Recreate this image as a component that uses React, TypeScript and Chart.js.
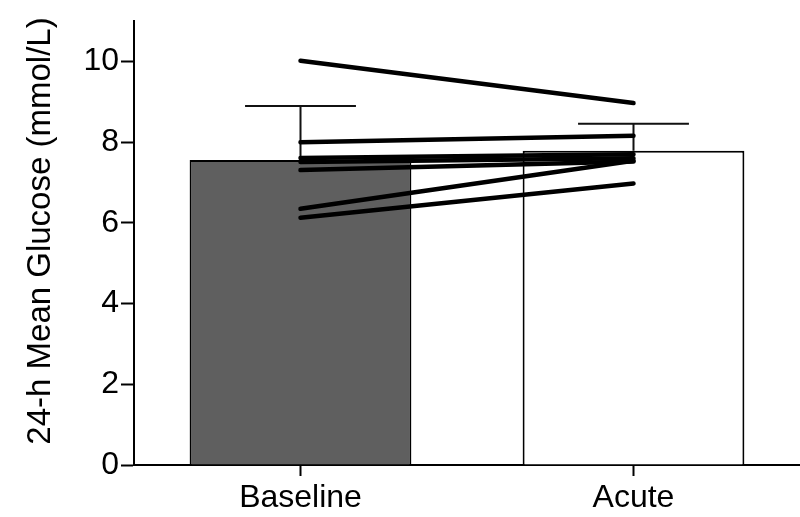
import React, { useEffect, useRef } from "react";
import { Chart, registerables } from "chart.js";

Chart.register(...registerables);

const categories = ["Baseline", "Acute"];
const barMeans = [7.56, 7.79];
const barErrors = [1.34, 0.67];
const subjectBaseline = [10.02, 8.0, 7.61, 7.51, 7.31, 6.35, 6.13];
const subjectAcute = [8.97, 8.16, 7.7, 7.6, 7.52, 7.54, 6.98];
const yTicks = [0, 2, 4, 6, 8, 10];
const yTitle = "24-h Mean Glucose (mmol/L)";

const FONT = "'Liberation Sans', Arial, Helvetica, sans-serif";

const errorBarPlugin = {
  id: "errorBars",
  afterDatasetDraw(chart: any, args: any) {
    if (args.index !== 0) return;
    const meta = chart.getDatasetMeta(0);
    const yScale = chart.scales.y;
    const ctx = chart.ctx;
    ctx.save();
    ctx.strokeStyle = "#111";
    ctx.lineWidth = 2;
    meta.data.forEach((el: any, i: number) => {
      const x = el.x;
      const yBar = el.y;
      const yTop = yScale.getPixelForValue(barMeans[i] + barErrors[i]);
      const half = el.width / 4;
      ctx.beginPath();
      ctx.moveTo(x, yBar);
      ctx.lineTo(x, yTop);
      ctx.moveTo(x - half, yTop);
      ctx.lineTo(x + half, yTop);
      ctx.stroke();
    });
    ctx.restore();
  },
};

const yTitlePlugin = {
  id: "yTitle",
  afterDraw(chart: any) {
    const ctx = chart.ctx;
    ctx.save();
    ctx.translate(50, 231);
    ctx.rotate(-Math.PI / 2);
    ctx.fillStyle = "#000";
    ctx.font = `33px ${FONT}`;
    ctx.textAlign = "center";
    ctx.textBaseline = "alphabetic";
    ctx.fillText(yTitle, 0, 0);
    ctx.restore();
  },
};

export default function App() {
  const ref = useRef<HTMLCanvasElement | null>(null);

  useEffect(() => {
    if (!ref.current) return;
    const lineSets = subjectBaseline.map((b, i) => ({
      type: "line" as const,
      data: [b, subjectAcute[i]],
      borderColor: "#000",
      borderWidth: 4.5,
      pointRadius: 0,
      borderCapStyle: "round" as const,
      fill: false,
      order: 1,
    }));
    const chart = new Chart(ref.current, {
      type: "bar",
      data: {
        labels: categories,
        datasets: [
          {
            type: "bar",
            data: barMeans,
            backgroundColor: ["#5f5f5f", "#ffffff"],
            borderColor: "#000",
            borderWidth: 2,
            barPercentage: 0.666,
            categoryPercentage: 1,
            order: 2,
          } as any,
          ...lineSets,
        ],
      },
      options: {
        animation: false,
        responsive: true,
        maintainAspectRatio: false,
        layout: { padding: { left: 0, right: 0, top: 20, bottom: 0 } },
        plugins: {
          legend: { display: false },
          tooltip: { enabled: false },
        },
        scales: {
          x: {
            offset: true,
            grid: {
              offset: false,
              drawOnChartArea: false,
              drawTicks: true,
              tickLength: 11,
              tickColor: "#000",
              tickWidth: 2,
            },
            border: { display: true, color: "#000", width: 2 },
            ticks: {
              color: "#000",
              font: { family: FONT, size: 32 },
              padding: 3,
            },
            afterFit: (scale: any) => {
              scale.height = 52;
            },
          },
          y: {
            min: 0,
            max: 11,
            afterBuildTicks: (axis: any) => {
              axis.ticks = yTicks.map((v) => ({ value: v }));
            },
            grid: {
              drawOnChartArea: false,
              drawTicks: true,
              tickLength: 13,
              tickColor: "#000",
              tickWidth: 2,
            },
            border: { display: true, color: "#000", width: 2 },
            ticks: {
              color: "#000",
              font: { family: FONT, size: 32 },
              padding: 2,
            },
            title: { display: false },
            afterFit: (scale: any) => {
              scale.width = 134;
            },
          },
        },
      },
      plugins: [errorBarPlugin, yTitlePlugin],
    });
    return () => chart.destroy();
  }, []);

  return (
    <div style={{ position: "fixed", left: 0, top: 0, width: 800, height: 517, background: "#fff" }}>
      <canvas ref={ref} />
    </div>
  );
}
